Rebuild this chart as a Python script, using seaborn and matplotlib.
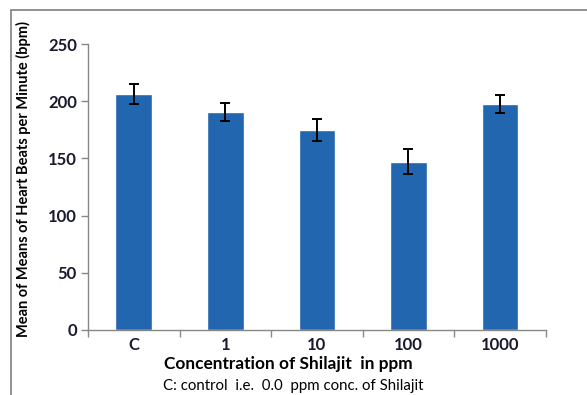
import numpy as np
import pandas as pd
import matplotlib
matplotlib.use("Agg")
import matplotlib.pyplot as plt
import seaborn as sns
from matplotlib.patches import Rectangle

# datos
concentraciones = ["C", "1", "10", "100", "1000"]
media_lpm = [206, 190.5, 175, 147, 197.8]
error_lpm = [8.7, 8.0, 9.7, 11.0, 8.0]

df = pd.DataFrame({"conc": concentraciones, "media": media_lpm})

sns.set_theme(style="white")
plt.rcParams["font.family"] = ["Lato", "DejaVu Sans"]

fig = plt.figure(figsize=(5.87, 3.95), dpi=100)
ax = fig.add_axes([0.1499, 0.1646, 0.7797, 0.724])

sns.barplot(data=df, x="conc", y="media", color="#2166ae", saturation=1,
            width=0.4, ax=ax, errorbar=None)
ax.errorbar(np.arange(len(concentraciones)), media_lpm, yerr=error_lpm,
            fmt="none", ecolor="black", elinewidth=1.4, capsize=3.6, capthick=1.4)

ax.set_ylim(0, 250)
ax.set_xlim(-0.5, len(concentraciones) - 0.5)
ax.set_yticks([0, 50, 100, 150, 200, 250])
ax.set_xticks(range(len(concentraciones)))
ax.set_xticklabels(concentraciones)
ax.set_xticks(np.arange(-0.5, len(concentraciones)), minor=True)
ax.tick_params(axis="x", which="major", length=0, pad=5, labelsize=12,
               labelcolor="#1a1a2e")
ax.tick_params(axis="x", which="minor", length=5, width=1, color="#888888",
               direction="out", bottom=True)
ax.tick_params(axis="y", length=5, width=1, color="#888888", direction="out",
               left=True, labelsize=12, labelcolor="#1a1a2e", pad=3)
for lab in ax.get_xticklabels() + ax.get_yticklabels():
    lab.set_fontweight("bold")

for lado in ["top", "right"]:
    ax.spines[lado].set_visible(False)
for lado in ["left", "bottom"]:
    ax.spines[lado].set_color("#888888")
    ax.spines[lado].set_linewidth(1)

ax.set_xlabel("")
ax.set_ylabel("")
fig.text(288 / 587, 1 - 364 / 395, "Concentration of Shilajit  in ppm",
         ha="center", va="center", fontsize=12.4, fontweight="bold", color="black")
fig.text(23 / 587, 1 - 179 / 395, "Mean of Means of Heart Beats per Minute (bpm)",
         ha="center", va="center", rotation=90, fontsize=10.5, fontweight="bold",
         color="black")
fig.text(293 / 587, 1 - 386 / 395, "C: control  i.e.  0.0  ppm conc. of Shilajit",
         ha="center", va="center", fontsize=10.8, color="black")

# marco del grafico (solo se ve arriba y a la izquierda)
fig.patches.append(Rectangle((11 / 587, -0.1), 1.2, 1 - 10 / 395 + 0.1,
                             transform=fig.transFigure, fill=False,
                             edgecolor="#7f7f7f", linewidth=1.2))

fig.savefig("out.png", dpi=100)
